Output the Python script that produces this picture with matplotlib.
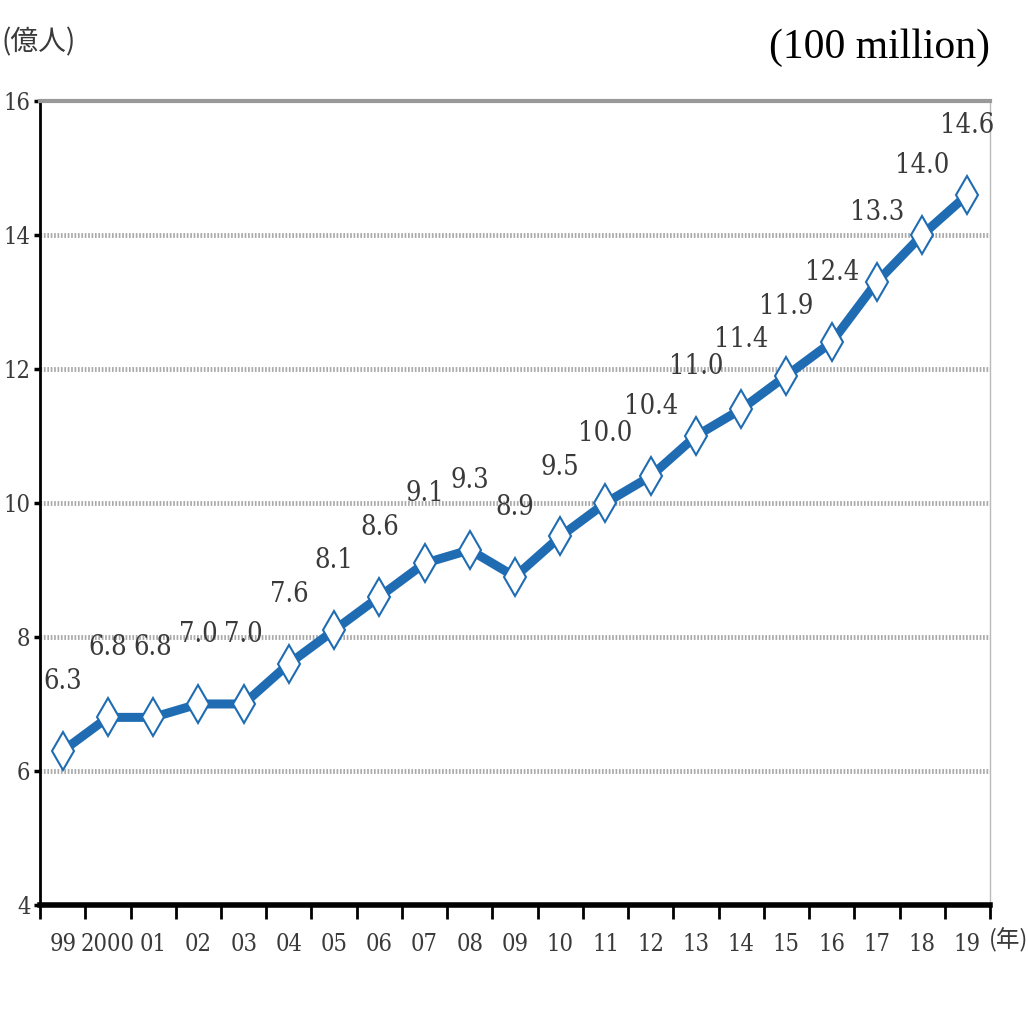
import matplotlib.pyplot as plt
from matplotlib.ticker import FixedLocator, NullFormatter

years = ["99", "2000", "01", "02", "03", "04", "05", "06", "07", "08", "09",
         "10", "11", "12", "13", "14", "15", "16", "17", "18", "19"]
travelers = [6.3, 6.8, 6.8, 7.0, 7.0, 7.6, 8.1, 8.6, 9.1, 9.3, 8.9,
             9.5, 10.0, 10.4, 11.0, 11.4, 11.9, 12.4, 13.3, 14.0, 14.6]
y_ticks = [4, 6, 8, 10, 12, 14, 16]

# 幅の狭い数字用フォント
num_font = dict(family="DejaVu Serif", fontstretch="condensed")
cjk = ["Noto Sans CJK JP", "DejaVu Sans"]
blue = "#1f6cb3"
gray_text = "#3a3a3a"

fig = plt.figure(figsize=(10.28, 10.1), dpi=100)
ax = fig.add_axes([0.039, 0.104, 0.924, 0.796])

x = list(range(len(years)))
ax.plot(x, travelers, color=blue, lw=6.5, solid_joinstyle="round",
        marker="d", markersize=19, markerfacecolor="white",
        markeredgecolor=blue, markeredgewidth=1.5, zorder=3)

# 値ラベル
for xi, v in zip(x, travelers):
    ax.annotate(f"{v:.1f}", (xi, v), xytext=(0, 50), textcoords="offset points",
                ha="center", va="center", fontsize=19.5, color=gray_text,
                **num_font)

ax.set_xlim(-0.5, len(years) - 0.5)
ax.set_ylim(4, 16)

# 目盛り線（点線）
for t in y_ticks[1:-1]:
    ax.axhline(t, color="#aaaaaa", lw=3.5, ls=(0, (0.35, 0.35)), zorder=1)

ax.set_yticks(y_ticks)
ax.set_yticklabels([str(t) for t in y_ticks], fontsize=17, color=gray_text,
                   **num_font)
ax.tick_params(axis="y", length=4, width=2.5, color="black", pad=3)

# x軸の目盛りはカテゴリの境界
ax.xaxis.set_major_locator(FixedLocator([i - 0.5 for i in range(len(years) + 1)]))
ax.xaxis.set_major_formatter(NullFormatter())
ax.xaxis.set_minor_locator(FixedLocator(x))
ax.set_xticklabels(years, minor=True, fontsize=17, color=gray_text, **num_font)
ax.tick_params(axis="x", which="major", length=10, width=2, color="black")
ax.tick_params(axis="x", which="minor", length=0, pad=20)

ax.spines["left"].set_linewidth(2)
ax.spines["left"].set_color("black")
ax.spines["bottom"].set_linewidth(4)
ax.spines["bottom"].set_color("black")
ax.spines["top"].set_linewidth(3)
ax.spines["top"].set_color("#999999")
ax.spines["right"].set_linewidth(1)
ax.spines["right"].set_color("#bbbbbb")

fig.text(0.001, 0.958, "(億人)", family=cjk, fontsize=20, color=gray_text,
         ha="left", va="center")
fig.text(0.981, 0.069, "(年)", family=cjk, fontsize=17, color=gray_text,
         ha="center", va="center")
fig.text(0.963, 0.953, "(100 million)", family=["Liberation Serif", "DejaVu Serif"],
         fontsize=30, color="black", ha="right", va="center")

fig.savefig("out.png", dpi=100)
